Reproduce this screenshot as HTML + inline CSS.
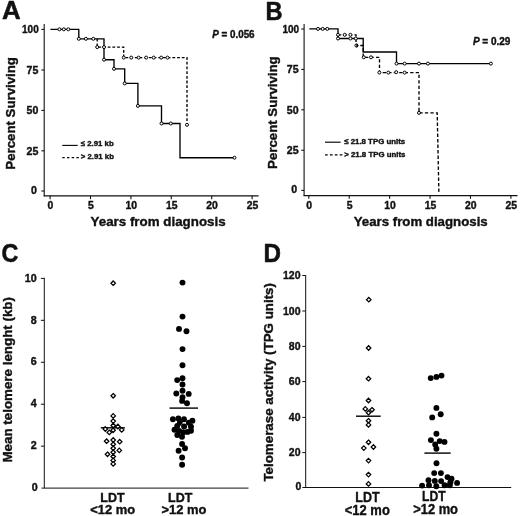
<!DOCTYPE html>
<html lang="en">
<head>
<meta charset="utf-8">
<title>Figure</title>
<style>
html,body{margin:0;padding:0;background:#fff;}
body{width:520px;height:516px;overflow:hidden;}
svg{display:block;}
svg{-webkit-font-smoothing:antialiased;will-change:transform;}
svg text{font-family:"Liberation Sans", Arial, Helvetica, sans-serif;font-weight:bold;fill:#111;stroke:#111;stroke-width:0.38px;stroke-linejoin:round;-webkit-font-smoothing:antialiased;}
svg text.big{stroke-width:0.5px;}
</style>
</head>
<body>
<svg width="520" height="516" viewBox="0 0 520 516">
<rect width="520" height="516" fill="#fff"/>
<line x1="44.2" y1="24" x2="44.2" y2="196.35" stroke="#111" stroke-width="1.1"/>
<line x1="41.4" y1="29.4" x2="44.2" y2="29.4" stroke="#111" stroke-width="1.1"/>
<text x="38.7" y="33.2" font-size="10.6" text-anchor="end" textLength="16.6" lengthAdjust="spacingAndGlyphs">100</text>
<line x1="41.4" y1="70.0" x2="44.2" y2="70.0" stroke="#111" stroke-width="1.1"/>
<text x="38.3" y="73.8" font-size="10.6" text-anchor="end">75</text>
<line x1="41.4" y1="110.4" x2="44.2" y2="110.4" stroke="#111" stroke-width="1.1"/>
<text x="38.3" y="114.2" font-size="10.6" text-anchor="end">50</text>
<line x1="41.4" y1="150.8" x2="44.2" y2="150.8" stroke="#111" stroke-width="1.1"/>
<text x="38.3" y="154.6" font-size="10.6" text-anchor="end">25</text>
<line x1="41.4" y1="191.0" x2="44.2" y2="191.0" stroke="#111" stroke-width="1.1"/>
<text x="36.9" y="193.9" font-size="10.6" text-anchor="end">0</text>
<line x1="43.7" y1="195.85" x2="258.6" y2="195.85" stroke="#111" stroke-width="1.2"/>
<line x1="50.1" y1="195.85" x2="50.1" y2="199.15" stroke="#111" stroke-width="1.1"/>
<text x="50.5" y="209.4" font-size="10.4" text-anchor="middle">0</text>
<line x1="90.5" y1="195.85" x2="90.5" y2="199.15" stroke="#111" stroke-width="1.1"/>
<text x="90.9" y="209.4" font-size="10.4" text-anchor="middle">5</text>
<line x1="130.9" y1="195.85" x2="130.9" y2="199.15" stroke="#111" stroke-width="1.1"/>
<text x="131.3" y="209.4" font-size="10.4" text-anchor="middle">10</text>
<line x1="171.3" y1="195.85" x2="171.3" y2="199.15" stroke="#111" stroke-width="1.1"/>
<text x="171.7" y="209.4" font-size="10.4" text-anchor="middle">15</text>
<line x1="211.7" y1="195.85" x2="211.7" y2="199.15" stroke="#111" stroke-width="1.1"/>
<text x="212.1" y="209.4" font-size="10.4" text-anchor="middle">20</text>
<line x1="252.1" y1="195.85" x2="252.1" y2="199.15" stroke="#111" stroke-width="1.1"/>
<text x="252.5" y="209.4" font-size="10.4" text-anchor="middle">25</text>
<text transform="translate(14.7 113.4) rotate(-90)" font-size="13.7" text-anchor="middle" textLength="112.6" lengthAdjust="spacingAndGlyphs">Percent Surviving</text>
<text x="158.1" y="225.7" font-size="13.5" text-anchor="middle" textLength="135" lengthAdjust="spacingAndGlyphs">Years from diagnosis</text>
<line x1="304.1" y1="24" x2="304.1" y2="196.05" stroke="#111" stroke-width="1.1"/>
<line x1="301.3" y1="29.0" x2="304.1" y2="29.0" stroke="#111" stroke-width="1.1"/>
<text x="299.0" y="32.8" font-size="10.6" text-anchor="end" textLength="16.6" lengthAdjust="spacingAndGlyphs">100</text>
<line x1="301.3" y1="69.4" x2="304.1" y2="69.4" stroke="#111" stroke-width="1.1"/>
<text x="298.6" y="73.2" font-size="10.6" text-anchor="end">75</text>
<line x1="301.3" y1="109.8" x2="304.1" y2="109.8" stroke="#111" stroke-width="1.1"/>
<text x="298.6" y="113.6" font-size="10.6" text-anchor="end">50</text>
<line x1="301.3" y1="150.3" x2="304.1" y2="150.3" stroke="#111" stroke-width="1.1"/>
<text x="298.6" y="154.1" font-size="10.6" text-anchor="end">25</text>
<line x1="301.3" y1="190.4" x2="304.1" y2="190.4" stroke="#111" stroke-width="1.1"/>
<text x="297.2" y="193.3" font-size="10.6" text-anchor="end">0</text>
<line x1="303.6" y1="195.55" x2="517.5" y2="195.55" stroke="#111" stroke-width="1.2"/>
<line x1="308.8" y1="195.55" x2="308.8" y2="198.85" stroke="#111" stroke-width="1.1"/>
<text x="309.2" y="209.0" font-size="10.4" text-anchor="middle">0</text>
<line x1="349.22" y1="195.55" x2="349.22" y2="198.85" stroke="#111" stroke-width="1.1"/>
<text x="349.62" y="209.0" font-size="10.4" text-anchor="middle">5</text>
<line x1="389.64" y1="195.55" x2="389.64" y2="198.85" stroke="#111" stroke-width="1.1"/>
<text x="390.04" y="209.0" font-size="10.4" text-anchor="middle">10</text>
<line x1="430.06" y1="195.55" x2="430.06" y2="198.85" stroke="#111" stroke-width="1.1"/>
<text x="430.46" y="209.0" font-size="10.4" text-anchor="middle">15</text>
<line x1="470.48" y1="195.55" x2="470.48" y2="198.85" stroke="#111" stroke-width="1.1"/>
<text x="470.88" y="209.0" font-size="10.4" text-anchor="middle">20</text>
<line x1="510.9" y1="195.55" x2="510.9" y2="198.85" stroke="#111" stroke-width="1.1"/>
<text x="511.3" y="209.0" font-size="10.4" text-anchor="middle">25</text>
<text transform="translate(276.6 112.6) rotate(-90)" font-size="13.7" text-anchor="middle" textLength="112.6" lengthAdjust="spacingAndGlyphs">Percent Surviving</text>
<text x="420.7" y="226.0" font-size="13.5" text-anchor="middle" textLength="134" lengthAdjust="spacingAndGlyphs">Years from diagnosis</text>
<text class="big" transform="translate(1.90 18.93) scale(1.079 1.076)" font-size="24">A</text>
<text class="big" transform="translate(265.55 19.54) scale(0.985 1.047)" font-size="24">B</text>
<text class="big" transform="translate(1.57 261.55) scale(0.974 1.097)" font-size="24">C</text>
<text class="big" transform="translate(263.51 261.68) scale(1.010 1.068)" font-size="24">D</text>
<path d="M50.4 29.3L78.8 29.3L78.8 38.8L104 38.8L104 59.7L114 59.7L114 68.8L124.7 68.8L124.7 83.4L137.9 83.4L137.9 105.9L161.5 105.9L161.5 123.5L180 123.5L180 157.7L234.5 157.7" fill="none" stroke="#000" stroke-width="1.35"/>
<path d="M97.2 38.8L97.2 47.1L123.7 47.1L123.7 57.6L187 57.6L187 124.8" fill="none" stroke="#000" stroke-width="1.35" stroke-dasharray="2.8 1.9"/>
<circle cx="59.4" cy="29.3" r="1.5" fill="#fff" stroke="#000" stroke-width="1.0"/>
<circle cx="63.8" cy="29.3" r="1.5" fill="#fff" stroke="#000" stroke-width="1.0"/>
<circle cx="68.3" cy="29.3" r="1.5" fill="#fff" stroke="#000" stroke-width="1.0"/>
<circle cx="78.8" cy="38.8" r="1.5" fill="#fff" stroke="#000" stroke-width="1.0"/>
<circle cx="85.9" cy="38.8" r="1.5" fill="#fff" stroke="#000" stroke-width="1.0"/>
<circle cx="93.3" cy="38.8" r="1.5" fill="#fff" stroke="#000" stroke-width="1.0"/>
<circle cx="104" cy="59.7" r="1.5" fill="#fff" stroke="#000" stroke-width="1.0"/>
<circle cx="114" cy="68.8" r="1.5" fill="#fff" stroke="#000" stroke-width="1.0"/>
<circle cx="124.7" cy="83.4" r="1.5" fill="#fff" stroke="#000" stroke-width="1.0"/>
<circle cx="137.9" cy="105.9" r="1.5" fill="#fff" stroke="#000" stroke-width="1.0"/>
<circle cx="161.5" cy="123.5" r="1.5" fill="#fff" stroke="#000" stroke-width="1.0"/>
<circle cx="170.8" cy="123.5" r="1.5" fill="#fff" stroke="#000" stroke-width="1.0"/>
<circle cx="234.5" cy="157.7" r="1.5" fill="#fff" stroke="#000" stroke-width="1.0"/>
<circle cx="97.2" cy="47.1" r="1.5" fill="#fff" stroke="#000" stroke-width="1.0"/>
<circle cx="104" cy="47.1" r="1.5" fill="#fff" stroke="#000" stroke-width="1.0"/>
<circle cx="123.7" cy="57.6" r="1.5" fill="#fff" stroke="#000" stroke-width="1.0"/>
<circle cx="131.2" cy="57.6" r="1.5" fill="#fff" stroke="#000" stroke-width="1.0"/>
<circle cx="138.6" cy="57.6" r="1.5" fill="#fff" stroke="#000" stroke-width="1.0"/>
<circle cx="146.2" cy="57.6" r="1.5" fill="#fff" stroke="#000" stroke-width="1.0"/>
<circle cx="153.7" cy="57.6" r="1.5" fill="#fff" stroke="#000" stroke-width="1.0"/>
<circle cx="161.2" cy="57.6" r="1.5" fill="#fff" stroke="#000" stroke-width="1.0"/>
<circle cx="167.5" cy="57.6" r="1.5" fill="#fff" stroke="#000" stroke-width="1.0"/>
<circle cx="187" cy="124.8" r="1.5" fill="#fff" stroke="#000" stroke-width="1.0"/>
<text x="212.2" y="37.9" font-size="10" textLength="42.4" lengthAdjust="spacingAndGlyphs"><tspan font-style="italic">P</tspan> = 0.056</text>
<line x1="62.3" y1="145.4" x2="77.7" y2="145.4" stroke="#000" stroke-width="1.1"/>
<text x="80.8" y="146.3" font-size="7.8" text-anchor="start">≤ 2.91 kb</text>
<line x1="62.3" y1="157.7" x2="78.8" y2="157.7" stroke="#000" stroke-width="1.3" stroke-dasharray="2.4 2.3"/>
<text x="80.8" y="159.2" font-size="7.8" text-anchor="start">&gt; 2.91 kb</text>
<path d="M309.3 28.9L338 28.9L338 38.5L363.2 38.5L363.2 52L396.5 52L396.5 63.6L490.9 63.6" fill="none" stroke="#000" stroke-width="1.35"/>
<path d="M338 34.8L356 34.8L356 45.5L363.2 45.5L363.2 57.3L379.5 57.3L379.5 72.6L419 72.6L419 112.9L437.2 112.9L438.9 193" fill="none" stroke="#000" stroke-width="1.35" stroke-dasharray="3.3 2.2"/>
<circle cx="318" cy="28.9" r="1.5" fill="#fff" stroke="#000" stroke-width="1.0"/>
<circle cx="322.7" cy="28.9" r="1.5" fill="#fff" stroke="#000" stroke-width="1.0"/>
<circle cx="327.3" cy="28.9" r="1.5" fill="#fff" stroke="#000" stroke-width="1.0"/>
<circle cx="338" cy="34.8" r="1.5" fill="#fff" stroke="#000" stroke-width="1.0"/>
<circle cx="344.7" cy="34.8" r="1.5" fill="#fff" stroke="#000" stroke-width="1.0"/>
<circle cx="350.4" cy="34.8" r="1.5" fill="#fff" stroke="#000" stroke-width="1.0"/>
<circle cx="338" cy="38.5" r="1.5" fill="#fff" stroke="#000" stroke-width="1.0"/>
<circle cx="350.4" cy="38.5" r="1.5" fill="#fff" stroke="#000" stroke-width="1.0"/>
<circle cx="355.8" cy="38.5" r="1.5" fill="#fff" stroke="#000" stroke-width="1.0"/>
<circle cx="363.8" cy="57.3" r="1.5" fill="#fff" stroke="#000" stroke-width="1.0"/>
<circle cx="371" cy="57.3" r="1.5" fill="#fff" stroke="#000" stroke-width="1.0"/>
<circle cx="379.4" cy="72.6" r="1.5" fill="#fff" stroke="#000" stroke-width="1.0"/>
<circle cx="388.3" cy="72.6" r="1.5" fill="#fff" stroke="#000" stroke-width="1.0"/>
<circle cx="396.2" cy="72.2" r="1.5" fill="#fff" stroke="#000" stroke-width="1.0"/>
<circle cx="404.6" cy="72.6" r="1.5" fill="#fff" stroke="#000" stroke-width="1.0"/>
<circle cx="396.5" cy="63.6" r="1.5" fill="#fff" stroke="#000" stroke-width="1.0"/>
<circle cx="404.6" cy="63.6" r="1.5" fill="#fff" stroke="#000" stroke-width="1.0"/>
<circle cx="419" cy="63.6" r="1.5" fill="#fff" stroke="#000" stroke-width="1.0"/>
<circle cx="427.9" cy="63.6" r="1.5" fill="#fff" stroke="#000" stroke-width="1.0"/>
<circle cx="490.9" cy="63.6" r="1.5" fill="#fff" stroke="#000" stroke-width="1.0"/>
<circle cx="419" cy="112.9" r="1.5" fill="#fff" stroke="#000" stroke-width="1.0"/>
<circle cx="356.4" cy="45.5" r="1.5" fill="#fff" stroke="#000" stroke-width="1"/>
<path d="M356.4 43.6A1.9 1.9 0 0 1 356.4 47.4Z" fill="#000"/>
<text x="472.9" y="44.8" font-size="10"><tspan font-style="italic">P</tspan> = 0.29</text>
<line x1="325" y1="142.2" x2="340.6" y2="142.2" stroke="#000" stroke-width="1.15"/>
<text x="344.2" y="144.0" font-size="7.85" text-anchor="start">≤ 21.8 TPG units</text>
<line x1="325" y1="154.8" x2="342.4" y2="154.8" stroke="#000" stroke-width="1.3" stroke-dasharray="2.7 2.2"/>
<text x="344.2" y="156.9" font-size="7.85" text-anchor="start">&gt; 21.8 TPG units</text>
<line x1="44.3" y1="277.8" x2="44.3" y2="488.1" stroke="#111" stroke-width="1"/>
<line x1="41.5" y1="488.1" x2="248.5" y2="488.1" stroke="#111" stroke-width="1"/>
<text x="37.7" y="490.7" font-size="10.7" text-anchor="end">0</text>
<line x1="40.9" y1="446.16" x2="44.3" y2="446.16" stroke="#111" stroke-width="1"/>
<text x="36.7" y="449.36" font-size="10.7" text-anchor="end">2</text>
<line x1="40.9" y1="404.22" x2="44.3" y2="404.22" stroke="#111" stroke-width="1"/>
<text x="36.7" y="407.42" font-size="10.7" text-anchor="end">4</text>
<line x1="40.9" y1="362.28" x2="44.3" y2="362.28" stroke="#111" stroke-width="1"/>
<text x="36.7" y="365.48" font-size="10.7" text-anchor="end">6</text>
<line x1="40.9" y1="320.34" x2="44.3" y2="320.34" stroke="#111" stroke-width="1"/>
<text x="36.7" y="323.54" font-size="10.7" text-anchor="end">8</text>
<line x1="40.9" y1="278.4" x2="44.3" y2="278.4" stroke="#111" stroke-width="1"/>
<text x="36.7" y="281.6" font-size="10.7" text-anchor="end">10</text>
<text transform="translate(11.7 379.8) rotate(-90)" font-size="13.3" text-anchor="middle" textLength="165.5" lengthAdjust="spacingAndGlyphs">Mean telomere lenght (kb)</text>
<text x="112.4" y="502.3" font-size="13" text-anchor="middle" textLength="24.3" lengthAdjust="spacingAndGlyphs">LDT</text>
<text x="112.7" y="514.2" font-size="13" text-anchor="middle" textLength="45" lengthAdjust="spacingAndGlyphs">&lt;12 mo</text>
<text x="180.2" y="502.3" font-size="13" text-anchor="middle" textLength="24.3" lengthAdjust="spacingAndGlyphs">LDT</text>
<text x="183.9" y="514.2" font-size="13" text-anchor="middle" textLength="45" lengthAdjust="spacingAndGlyphs">&gt;12 mo</text>
<line x1="100.8" y1="427.8" x2="124.9" y2="427.8" stroke="#000" stroke-width="1.4"/>
<line x1="169.5" y1="408.1" x2="198" y2="408.1" stroke="#000" stroke-width="1.4"/>
<path d="M113.2 280.95L115.45 283.2L113.2 285.45L110.95 283.2Z" fill="#fff" stroke="#000" stroke-width="1.25"/>
<path d="M113.2 393.55L115.45 395.8L113.2 398.05L110.95 395.8Z" fill="#fff" stroke="#000" stroke-width="1.25"/>
<path d="M113.2 413.65L115.45 415.9L113.2 418.15L110.95 415.9Z" fill="#fff" stroke="#000" stroke-width="1.25"/>
<path d="M113.2 418.85L115.45 421.1L113.2 423.35L110.95 421.1Z" fill="#fff" stroke="#000" stroke-width="1.25"/>
<path d="M113.2 423.25L115.45 425.5L113.2 427.75L110.95 425.5Z" fill="#fff" stroke="#000" stroke-width="1.25"/>
<path d="M117.9 424.25L120.15 426.5L117.9 428.75L115.65 426.5Z" fill="#fff" stroke="#000" stroke-width="1.25"/>
<path d="M105.3 426.75L107.55 429.0L105.3 431.25L103.05 429.0Z" fill="#fff" stroke="#000" stroke-width="1.25"/>
<path d="M121.7 427.65L123.95 429.9L121.7 432.15L119.45 429.9Z" fill="#fff" stroke="#000" stroke-width="1.25"/>
<path d="M113.1 428.05L115.35 430.3L113.1 432.55L110.85 430.3Z" fill="#fff" stroke="#000" stroke-width="1.25"/>
<path d="M109.3 430.15L111.55 432.4L109.3 434.65L107.05 432.4Z" fill="#fff" stroke="#000" stroke-width="1.25"/>
<path d="M106.6 438.95L108.85 441.2L106.6 443.45L104.35 441.2Z" fill="#fff" stroke="#000" stroke-width="1.25"/>
<path d="M113.2 437.75L115.45 440L113.2 442.25L110.95 440Z" fill="#fff" stroke="#000" stroke-width="1.25"/>
<path d="M119.7 439.45L121.95 441.7L119.7 443.95L117.45 441.7Z" fill="#fff" stroke="#000" stroke-width="1.25"/>
<path d="M113.2 442.05L115.45 444.3L113.2 446.55L110.95 444.3Z" fill="#fff" stroke="#000" stroke-width="1.25"/>
<path d="M113.2 445.95L115.45 448.2L113.2 450.45L110.95 448.2Z" fill="#fff" stroke="#000" stroke-width="1.25"/>
<path d="M119.3 448.15L121.55 450.4L119.3 452.65L117.05 450.4Z" fill="#fff" stroke="#000" stroke-width="1.25"/>
<path d="M113.2 449.95L115.45 452.2L113.2 454.45L110.95 452.2Z" fill="#fff" stroke="#000" stroke-width="1.25"/>
<path d="M107.5 452.05L109.75 454.3L107.5 456.55L105.25 454.3Z" fill="#fff" stroke="#000" stroke-width="1.25"/>
<path d="M113.2 454.25L115.45 456.5L113.2 458.75L110.95 456.5Z" fill="#fff" stroke="#000" stroke-width="1.25"/>
<path d="M113.2 458.15L115.45 460.4L113.2 462.65L110.95 460.4Z" fill="#fff" stroke="#000" stroke-width="1.25"/>
<path d="M113.2 461.65L115.45 463.9L113.2 466.15L110.95 463.9Z" fill="#fff" stroke="#000" stroke-width="1.25"/>
<circle cx="182.5" cy="282.6" r="2.95" fill="#000"/>
<circle cx="182.5" cy="316.6" r="2.95" fill="#000"/>
<circle cx="179" cy="328.9" r="2.95" fill="#000"/>
<circle cx="186.5" cy="331.2" r="2.95" fill="#000"/>
<circle cx="182.5" cy="349.1" r="2.95" fill="#000"/>
<circle cx="182.5" cy="365.2" r="2.95" fill="#000"/>
<circle cx="182.5" cy="378.3" r="2.95" fill="#000"/>
<circle cx="177.2" cy="380.1" r="2.95" fill="#000"/>
<circle cx="182.5" cy="384.5" r="2.95" fill="#000"/>
<circle cx="182.5" cy="390.8" r="2.95" fill="#000"/>
<circle cx="176.3" cy="393.5" r="2.95" fill="#000"/>
<circle cx="188.7" cy="393.9" r="2.95" fill="#000"/>
<circle cx="182.5" cy="397.3" r="2.95" fill="#000"/>
<circle cx="182.1" cy="400.9" r="2.95" fill="#000"/>
<circle cx="187" cy="403.3" r="2.95" fill="#000"/>
<circle cx="172.9" cy="419.2" r="2.95" fill="#000"/>
<circle cx="178.4" cy="418.5" r="2.95" fill="#000"/>
<circle cx="184.0" cy="419.3" r="2.95" fill="#000"/>
<circle cx="192.4" cy="420.8" r="2.95" fill="#000"/>
<circle cx="188.8" cy="422.8" r="2.95" fill="#000"/>
<circle cx="179.8" cy="422.9" r="2.95" fill="#000"/>
<circle cx="177.2" cy="425.9" r="2.95" fill="#000"/>
<circle cx="191.0" cy="426.8" r="2.95" fill="#000"/>
<circle cx="174.5" cy="429.8" r="2.95" fill="#000"/>
<circle cx="179.2" cy="431.0" r="2.95" fill="#000"/>
<circle cx="191.0" cy="430.7" r="2.95" fill="#000"/>
<circle cx="187.5" cy="431.9" r="2.95" fill="#000"/>
<circle cx="177.3" cy="435.0" r="2.95" fill="#000"/>
<circle cx="182.0" cy="436.7" r="2.95" fill="#000"/>
<circle cx="182.1" cy="444" r="2.95" fill="#000"/>
<circle cx="185" cy="448.2" r="2.95" fill="#000"/>
<circle cx="178.6" cy="450.7" r="2.95" fill="#000"/>
<circle cx="182.1" cy="457.5" r="2.95" fill="#000"/>
<circle cx="182.1" cy="464.7" r="2.95" fill="#000"/>
<circle cx="183.4" cy="432.2" r="2.95" fill="#000"/>
<path d="M183.27 423.31A3.2 3.2 0 0 0 182.75 429.30" fill="none" stroke="#fff" stroke-width="0.4"/>
<circle cx="184.1" cy="426.4" r="2.95" fill="#000"/>
<line x1="305.7" y1="275" x2="305.7" y2="487.9" stroke="#111" stroke-width="1"/>
<line x1="302.4" y1="487.5" x2="511.2" y2="487.5" stroke="#111" stroke-width="1"/>
<text x="301.3" y="490.1" font-size="10.5" text-anchor="end">0</text>
<line x1="302.3" y1="452.6" x2="305.7" y2="452.6" stroke="#111" stroke-width="1"/>
<text x="300.5" y="456.1" font-size="10.5" text-anchor="end">20</text>
<line x1="302.3" y1="417.4" x2="305.7" y2="417.4" stroke="#111" stroke-width="1"/>
<text x="300.5" y="420.9" font-size="10.5" text-anchor="end">40</text>
<line x1="302.3" y1="381.6" x2="305.7" y2="381.6" stroke="#111" stroke-width="1"/>
<text x="300.5" y="385.1" font-size="10.5" text-anchor="end">60</text>
<line x1="302.3" y1="346.4" x2="305.7" y2="346.4" stroke="#111" stroke-width="1"/>
<text x="300.5" y="349.9" font-size="10.5" text-anchor="end">80</text>
<line x1="302.3" y1="311.0" x2="305.7" y2="311.0" stroke="#111" stroke-width="1"/>
<text x="300.5" y="314.5" font-size="10.5" text-anchor="end">100</text>
<line x1="302.3" y1="275.5" x2="305.7" y2="275.5" stroke="#111" stroke-width="1"/>
<text x="300.5" y="279.0" font-size="10.5" text-anchor="end">120</text>
<text transform="translate(272.9 382.3) rotate(-90)" font-size="13.4" text-anchor="middle" textLength="198.6" lengthAdjust="spacingAndGlyphs">Telomerase activity (TPG units)</text>
<text x="367.5" y="502.1" font-size="14" text-anchor="middle" textLength="24.3" lengthAdjust="spacingAndGlyphs">LDT</text>
<text x="367.3" y="514.5" font-size="14" text-anchor="middle" textLength="45" lengthAdjust="spacingAndGlyphs">&lt;12 mo</text>
<text x="433.9" y="500.8" font-size="14" text-anchor="middle" textLength="23.6" lengthAdjust="spacingAndGlyphs">LDT</text>
<text x="435.6" y="513.7" font-size="14" text-anchor="middle" textLength="44.8" lengthAdjust="spacingAndGlyphs">&gt;12 mo</text>
<line x1="356" y1="416.2" x2="380.7" y2="416.2" stroke="#000" stroke-width="1.4"/>
<line x1="424.4" y1="453.1" x2="450.7" y2="453.1" stroke="#000" stroke-width="1.4"/>
<path d="M368.8 297.45L371.05 299.7L368.8 301.95L366.55 299.7Z" fill="#fff" stroke="#000" stroke-width="1.25"/>
<path d="M368.6 345.75L370.85 348L368.6 350.25L366.35 348Z" fill="#fff" stroke="#000" stroke-width="1.25"/>
<path d="M368.5 376.45L370.75 378.7L368.5 380.95L366.25 378.7Z" fill="#fff" stroke="#000" stroke-width="1.25"/>
<path d="M368.5 398.25L370.75 400.5L368.5 402.75L366.25 400.5Z" fill="#fff" stroke="#000" stroke-width="1.25"/>
<path d="M365.3 406.65L367.55 408.9L365.3 411.15L363.05 408.9Z" fill="#fff" stroke="#000" stroke-width="1.25"/>
<path d="M372 407.55L374.25 409.8L372 412.05L369.75 409.8Z" fill="#fff" stroke="#000" stroke-width="1.25"/>
<path d="M368.5 410.45L370.75 412.7L368.5 414.95L366.25 412.7Z" fill="#fff" stroke="#000" stroke-width="1.25"/>
<path d="M368.5 418.55L370.75 420.8L368.5 423.05L366.25 420.8Z" fill="#fff" stroke="#000" stroke-width="1.25"/>
<path d="M368.5 422.65L370.75 424.9L368.5 427.15L366.25 424.9Z" fill="#fff" stroke="#000" stroke-width="1.25"/>
<path d="M368.5 440.05L370.75 442.3L368.5 444.55L366.25 442.3Z" fill="#fff" stroke="#000" stroke-width="1.25"/>
<path d="M363.8 445.85L366.05 448.1L363.8 450.35L361.55 448.1Z" fill="#fff" stroke="#000" stroke-width="1.25"/>
<path d="M373.4 444.75L375.65 447L373.4 449.25L371.15 447Z" fill="#fff" stroke="#000" stroke-width="1.25"/>
<path d="M368.5 458.35L370.75 460.6L368.5 462.85L366.25 460.6Z" fill="#fff" stroke="#000" stroke-width="1.25"/>
<path d="M368.5 472.35L370.75 474.6L368.5 476.85L366.25 474.6Z" fill="#fff" stroke="#000" stroke-width="1.25"/>
<path d="M368.5 481.65L370.75 483.9L368.5 486.15L366.25 483.9Z" fill="#fff" stroke="#000" stroke-width="1.25"/>
<circle cx="430.7" cy="378.1" r="2.95" fill="#000"/>
<circle cx="436.4" cy="376.9" r="2.95" fill="#000"/>
<circle cx="441.5" cy="375.6" r="2.95" fill="#000"/>
<circle cx="436.4" cy="407.9" r="2.95" fill="#000"/>
<circle cx="440.7" cy="414.2" r="2.95" fill="#000"/>
<circle cx="432.2" cy="417.4" r="2.95" fill="#000"/>
<circle cx="436.4" cy="433.8" r="2.95" fill="#000"/>
<circle cx="430.9" cy="440.1" r="2.95" fill="#000"/>
<circle cx="439.7" cy="441.1" r="2.95" fill="#000"/>
<circle cx="444.5" cy="441.9" r="2.95" fill="#000"/>
<circle cx="435.2" cy="444.4" r="2.95" fill="#000"/>
<circle cx="436.4" cy="448.7" r="2.95" fill="#000"/>
<circle cx="436.5" cy="463.3" r="2.95" fill="#000"/>
<circle cx="434.2" cy="473.1" r="2.95" fill="#000"/>
<circle cx="440.9" cy="473.1" r="2.95" fill="#000"/>
<circle cx="447.5" cy="477.1" r="2.95" fill="#000"/>
<circle cx="451.5" cy="478.8" r="2.95" fill="#000"/>
<circle cx="428.5" cy="480.2" r="2.95" fill="#000"/>
<circle cx="434.8" cy="480.9" r="2.95" fill="#000"/>
<circle cx="441.1" cy="481.1" r="2.95" fill="#000"/>
<circle cx="450.4" cy="482.3" r="2.95" fill="#000"/>
<circle cx="457.1" cy="482.9" r="2.95" fill="#000"/>
<circle cx="422.1" cy="485.6" r="2.95" fill="#000"/>
<circle cx="429" cy="485.3" r="2.95" fill="#000"/>
<circle cx="436.3" cy="486.3" r="2.95" fill="#000"/>
<circle cx="444.6" cy="485.2" r="2.95" fill="#000"/>
<circle cx="449.8" cy="485.2" r="2.95" fill="#000"/>
</svg>
</body>
</html>
